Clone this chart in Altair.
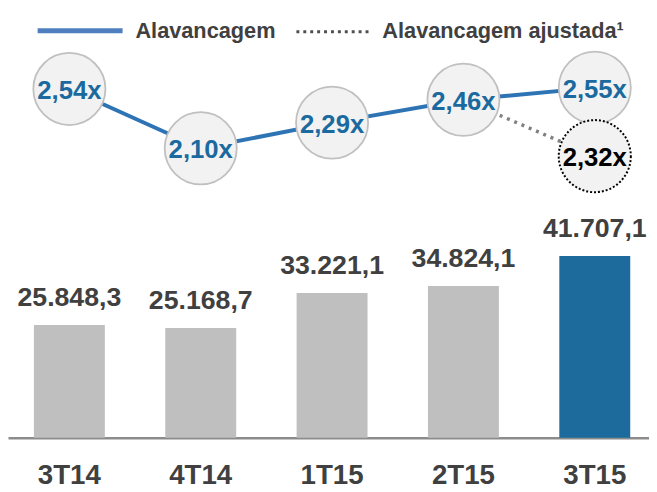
import altair as alt
import pandas as pd

PERIODS = ["3T14", "4T14", "1T15", "2T15", "3T15"]
DEBT = [25848.3, 25168.7, 33221.1, 34824.1, 41707.1]
LEVERAGE = [2.54, 2.10, 2.29, 2.46, 2.55]
ADJ_PERIODS = ["2T15", "3T15"]
ADJ_LEVERAGE = [2.46, 2.32]
SERIES = ["Alavancagem", "Alavancagem ajustada\u00b9"]
HIGHLIGHT = "3T15"

FONT = "Liberation Sans, Arial, sans-serif"
DARK = "#404040"
BLUE_BAR = "#1d6b9d"
BLUE_TXT = "#1a6aa0"
BLUE_LINE = "#2e74b5"
GRAY_BAR = "#bfbfbf"

bars_df = pd.DataFrame({"period": PERIODS, "debt": DEBT})
lev_df = pd.DataFrame({"period": PERIODS, "lev": LEVERAGE})
adj_seg = pd.DataFrame({
    "p1": [ADJ_PERIODS[0]], "v1": [ADJ_LEVERAGE[0]],
    "p2": [ADJ_PERIODS[1]], "v2": [ADJ_LEVERAGE[1]],
})
adj_pt = pd.DataFrame({"period": [ADJ_PERIODS[1]], "lev": [ADJ_LEVERAGE[1]]})

xscale = alt.Scale(domain=PERIODS, paddingInner=0.46, paddingOuter=0.17, align=0.58)
x_axis = alt.Axis(title=None, labelAngle=0, ticks=False, domainColor="#8c8c8c",
                  domainWidth=2.5, labelFont=FONT, labelFontSize=28,
                  labelFontWeight="bold", labelColor=DARK, labelPadding=24)
bar_y = alt.Scale(domain=[0, 97920], nice=False, zero=False)
lev_y = alt.Scale(domain=[-0.048, 3.119], nice=False, zero=False)

X_AX = alt.X("period:N", scale=xscale, axis=x_axis, sort=PERIODS)

bars = alt.Chart(bars_df).mark_bar().encode(
    x=X_AX,
    y=alt.Y("debt:Q", scale=bar_y, axis=None),
    color=alt.condition(alt.datum.period == HIGHLIGHT, alt.value(BLUE_BAR), alt.value(GRAY_BAR)),
)

bar_labels = alt.Chart(bars_df).transform_calculate(
    lbl="replace(replace(replace(format(datum.debt, ',.1f'), ',', '#'), '.', ','), '#', '.')"
).mark_text(font=FONT, fontSize=27, fontWeight="bold", color=DARK,
            baseline="alphabetic", dy=-19).encode(
    x=X_AX,
    y=alt.Y("debt:Q", scale=bar_y, axis=None),
    text="lbl:N",
)

line = alt.Chart(lev_df).mark_line(color=BLUE_LINE, strokeWidth=4).encode(
    x=X_AX,
    y=alt.Y("lev:Q", scale=lev_y, axis=None),
)

adj_rule = alt.Chart(adj_seg).mark_rule(color="#808080", strokeWidth=3.5,
                                        strokeDash=[3, 5], y2Offset=38).encode(
    x=alt.X("p1:N", scale=xscale, axis=x_axis, sort=PERIODS),
    x2="p2:N",
    y=alt.Y("v1:Q", scale=lev_y, axis=None),
    y2="v2:Q",
)

CIRCLE_SIZE = 5329
circles = alt.Chart(lev_df).mark_point(shape="circle", size=CIRCLE_SIZE, filled=False,
                                       fill="#f2f2f2", fillOpacity=1, stroke="#c0c0c0",
                                       strokeWidth=1.8, opacity=1).encode(
    x=X_AX,
    y=alt.Y("lev:Q", scale=lev_y, axis=None),
)

adj_circle = alt.Chart(adj_pt).mark_point(shape="circle", size=CIRCLE_SIZE, filled=False,
                                          fill="#f2f2f2", fillOpacity=1, stroke="#000000",
                                          strokeWidth=2, strokeDash=[2, 2], opacity=1,
                                          yOffset=38).encode(
    x=X_AX,
    y=alt.Y("lev:Q", scale=lev_y, axis=None),
)

lev_text = alt.Chart(lev_df).transform_calculate(
    lbl="replace(format(datum.lev, '.2f'), '.', ',') + 'x'"
).mark_text(font=FONT, fontSize=26, fontWeight="bold", color=BLUE_TXT,
            baseline="middle", dy=2).encode(
    x=X_AX,
    y=alt.Y("lev:Q", scale=lev_y, axis=None),
    text="lbl:N",
)

adj_text = alt.Chart(adj_pt).transform_calculate(
    lbl="replace(format(datum.lev, '.2f'), '.', ',') + 'x'"
).mark_text(font=FONT, fontSize=26, fontWeight="bold", color="#000000",
            baseline="middle", dy=2, yOffset=38).encode(
    x=X_AX,
    y=alt.Y("lev:Q", scale=lev_y, axis=None),
    text="lbl:N",
)

leg_base = alt.Chart(pd.DataFrame({"s": SERIES[:1]}))
leg_line1 = leg_base.mark_rule(color="#4f7fbf", strokeWidth=5).encode(
    x=alt.value(30), x2=alt.value(116), y=alt.value(20))
leg_text1 = leg_base.mark_text(font=FONT, fontSize=22, fontWeight="bold", color=DARK,
                               align="left", baseline="alphabetic").encode(
    x=alt.value(129), y=alt.value(27), text=alt.value(SERIES[0]))
leg_line2 = leg_base.mark_rule(color="#505050", strokeWidth=3, strokeDash=[3, 4]).encode(
    x=alt.value(292), x2=alt.value(366), y=alt.value(21))
leg_text2 = leg_base.mark_text(font=FONT, fontSize=22, fontWeight="bold", color=DARK,
                               align="left", baseline="alphabetic").encode(
    x=alt.value(379), y=alt.value(27), text=alt.value(SERIES[1]))

chart = alt.layer(
    bars, bar_labels, line, adj_rule, circles, adj_circle, lev_text, adj_text,
    leg_line1, leg_text1, leg_line2, leg_text2,
).resolve_scale(y="independent").properties(
    width=649, height=432,
    autosize=alt.AutoSizeParams(type="none"),
    padding={"left": 0, "top": 0, "right": 0, "bottom": 52},
).configure_view(stroke=None)

chart.save("out.html", embed_options={"renderer": "svg", "actions": False})
